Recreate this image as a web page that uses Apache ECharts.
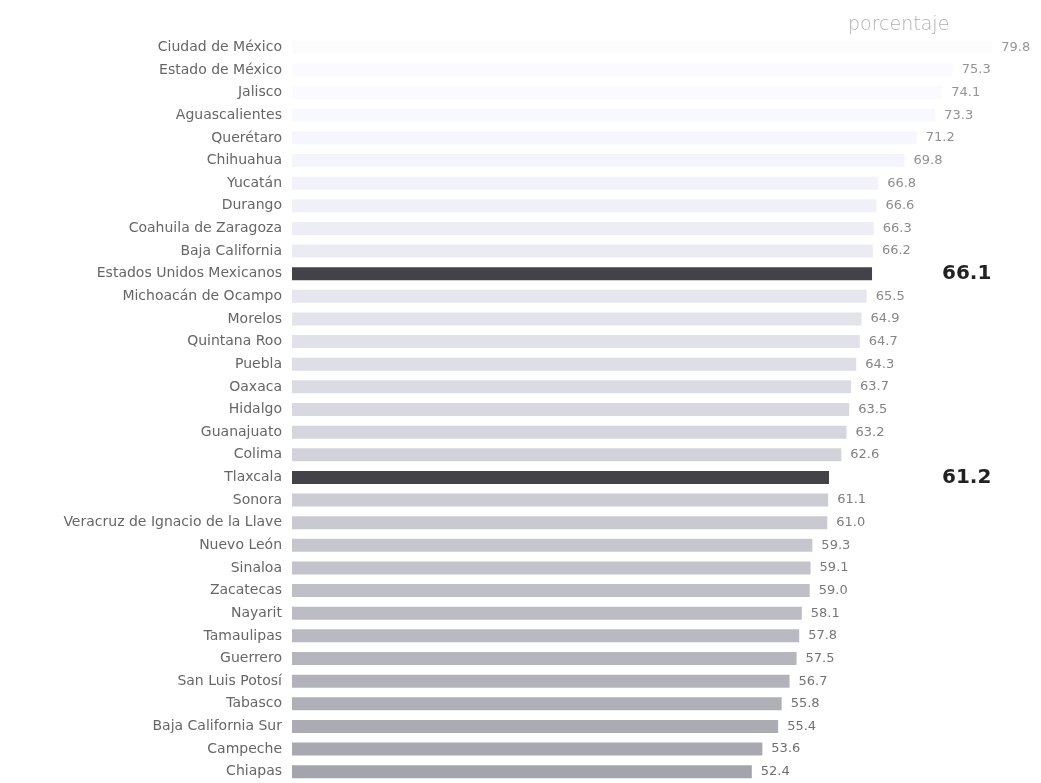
<!DOCTYPE html>
<html>
<head>
<meta charset="utf-8">
<script src="https://cdn.jsdelivr.net/npm/echarts@6/dist/echarts.min.js"></script>
<style>html,body{margin:0;padding:0;background:#fff;}#c{width:1041px;height:783px;}</style>
</head>
<body>
<div id="c"></div>
<script>
const categories = [
  "Ciudad de México","Estado de México","Jalisco","Aguascalientes","Querétaro",
  "Chihuahua","Yucatán","Durango","Coahuila de Zaragoza","Baja California",
  "Estados Unidos Mexicanos","Michoacán de Ocampo","Morelos","Quintana Roo","Puebla",
  "Oaxaca","Hidalgo","Guanajuato","Colima","Tlaxcala",
  "Sonora","Veracruz de Ignacio de la Llave","Nuevo León","Sinaloa","Zacatecas",
  "Nayarit","Tamaulipas","Guerrero","San Luis Potosí","Tabasco",
  "Baja California Sur","Campeche","Chiapas"
];
const values = [
  79.8,75.3,74.1,73.3,71.2,
  69.8,66.8,66.6,66.3,66.2,
  66.1,65.5,64.9,64.7,64.3,
  63.7,63.5,63.2,62.6,61.2,
  61.1,61.0,59.3,59.1,59.0,
  58.1,57.8,57.5,56.7,55.8,
  55.4,53.6,52.4
];
const highlighted = ["Estados Unidos Mexicanos","Tlaxcala"];
const unitLabel = "porcentaje";

const n = categories.length;
function tone(i){
  const t = Math.pow(i/(n-1), 1.3);
  const g = Math.round(252 - 88*t);
  return 'rgb(' + g + ',' + g + ',' + Math.min(255, g+9) + ')';
}
function labelTone(i){
  const t = i/(n-1);
  const g = Math.round(150 - 40*t);
  return 'rgb(' + g + ',' + g + ',' + g + ')';
}

const chart = echarts.init(document.getElementById('c'), null, {renderer:'canvas'});
const LABEL_X = 942;

function buildData(dists){
  return values.map((v,i)=>{
    const hi = highlighted.indexOf(categories[i]) >= 0;
    if (hi) {
      return {
        value: v,
        itemStyle: {color: '#424248'},
        label: {
          show: true, position: 'right', distance: dists ? dists[i] : 70,
          fontFamily: 'DejaVu Sans', fontWeight: 'bold', fontSize: 20, color: '#222',
          formatter: (p)=>p.value.toFixed(1)
        }
      };
    }
    return {
      value: v,
      itemStyle: {color: tone(i)},
      label: {color: labelTone(i)}
    };
  });
}

const option = {
  animation: false,
  backgroundColor: '#ffffff',
  grid: {left: 292, right: 47, top: 36, height: 752, containLabel: false},
  graphic: [{
    type: 'text', left: 848, top: 16,
    style: {text: unitLabel, fontFamily: 'DejaVu Sans', fontSize: 19, fontWeight: 'lighter', fill: '#b0b0b0'}
  }],
  xAxis: {
    type: 'value', min: 0, max: 80, show: false
  },
  yAxis: {
    type: 'category', data: categories, inverse: true,
    axisLine: {show: false}, axisTick: {show: false},
    axisLabel: {fontFamily: 'DejaVu Sans', fontSize: 14, color: '#666', margin: 10}
  },
  series: [{
    type: 'bar',
    data: buildData(null),
    barWidth: 13,
    label: {
      show: true, position: 'right', distance: 9,
      fontFamily: 'DejaVu Sans', fontSize: 13, color: '#777',
      formatter: (p)=>p.value.toFixed(1)
    }
  }]
};
chart.setOption(option);

const dists = values.map((v)=> LABEL_X - chart.convertToPixel({xAxisIndex:0}, v));
chart.setOption({series: [{data: buildData(dists)}]});
</script>
</body>
</html>
